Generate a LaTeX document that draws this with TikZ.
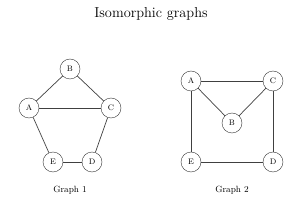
\documentclass[tikz,border=0pt]{standalone}
\usepackage{tikz}
\usetikzlibrary{positioning}

\begin{document}
\begin{tikzpicture}[
    x=1pt, y=1pt,
    vertex/.style={circle, draw=black!80, thin, fill=white, minimum size=20pt,
                   inner sep=0pt, font=\footnotesize},
    edge/.style={line width=0.7pt, draw=black!75},
    caption/.style={font=\small},
  ]
    \useasboundingbox (0,0) rectangle (306,204);
    \node[font=\Large] (title) at (151,190) {Isomorphic graphs};

    % Graph 1
    \node[vertex] (g1b) at (70,135) {B};
    \node[vertex] (g1a) at (29,96) {A};
    \node[vertex] (g1c) at (111,96) {C};
    \node[vertex] (g1e) at (53,42) {E};
    \node[vertex] (g1d) at (92,42) {D};
    \node[caption] (cap1) at (70,14) {Graph 1};

    \draw[edge] (g1a) -- (g1b);
    \draw[edge] (g1b) -- (g1c);
    \draw[edge] (g1a) -- (g1c);
    \draw[edge] (g1c) -- (g1d);
    \draw[edge] (g1d) -- (g1e);
    \draw[edge] (g1e) -- (g1a);

    % Graph 2
    \node[vertex] (g2a) at (191,123) {A};
    \node[vertex] (g2c) at (273,123) {C};
    \node[vertex] (g2b) at (232,81) {B};
    \node[vertex] (g2e) at (191,42) {E};
    \node[vertex] (g2d) at (273,42) {D};
    \node[caption] (cap2) at (232,14) {Graph 2};

    \draw[edge] (g2a) -- (g2c);
    \draw[edge] (g2a) -- (g2b);
    \draw[edge] (g2b) -- (g2c);
    \draw[edge] (g2c) -- (g2d);
    \draw[edge] (g2d) -- (g2e);
    \draw[edge] (g2e) -- (g2a);
  \end{tikzpicture}
\end{document}
